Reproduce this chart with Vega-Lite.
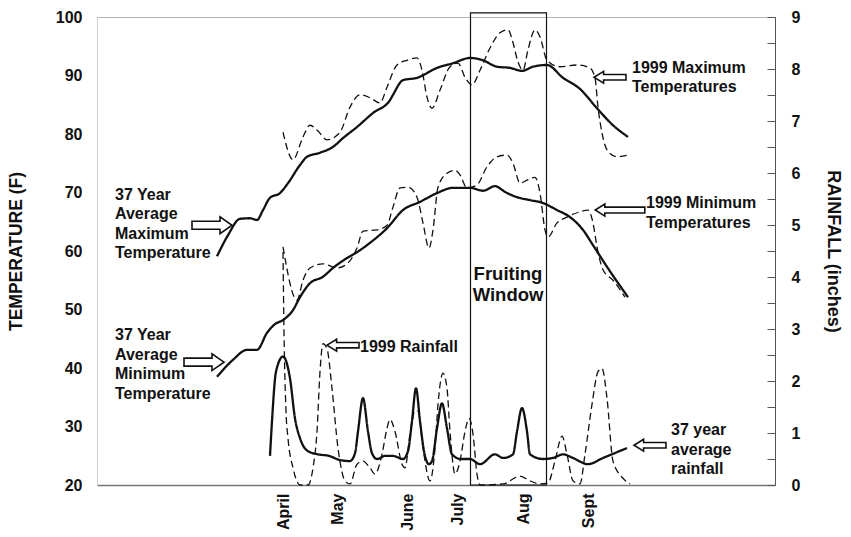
{
  "$schema": "https://vega.github.io/schema/vega-lite/v6.json",
  "width": 678,
  "height": 468,
  "autosize": {"type": "none"},
  "padding": {"left": 97, "top": 17, "right": 76, "bottom": 52},
  "background": "white",
  "config": {
    "view": {"stroke": "#b5b5b5", "strokeWidth": 1},
    "font": "Liberation Sans",
    "axis": {
      "labelFont": "Liberation Sans", "labelFontWeight": "bold", "labelFontSize": 16, "labelColor": "#111",
      "titleFont": "Liberation Sans", "titleFontWeight": "bold", "titleFontSize": 17.5, "titleColor": "#111",
      "grid": false
    },
    "text": {"font": "Liberation Sans"}
  },
  "datasets": {
    "temps": [
      {"s":"avgmax","k":"avg","day":72,"temp":59.1},{"s":"avgmax","k":"avg","day":77.5,"temp":62.7},{"s":"avgmax","k":"avg","day":83.5,"temp":65.5},{"s":"avgmax","k":"avg","day":88.5,"temp":65.6},{"s":"avgmax","k":"avg","day":92,"temp":65.3},{"s":"avgmax","k":"avg","day":95,"temp":67.0},{"s":"avgmax","k":"avg","day":98.5,"temp":69.1},{"s":"avgmax","k":"avg","day":103.5,"temp":69.9},{"s":"avgmax","k":"avg","day":107.5,"temp":71.6},{"s":"avgmax","k":"avg","day":113.5,"temp":74.7},{"s":"avgmax","k":"avg","day":117,"temp":76.1},{"s":"avgmax","k":"avg","day":123.5,"temp":76.8},{"s":"avgmax","k":"avg","day":130,"temp":77.8},{"s":"avgmax","k":"avg","day":135,"temp":79.3},{"s":"avgmax","k":"avg","day":142,"temp":81.2},{"s":"avgmax","k":"avg","day":150,"temp":83.6},{"s":"avgmax","k":"avg","day":158.5,"temp":85.8},{"s":"avgmax","k":"avg","day":160,"temp":86.7},{"s":"avgmax","k":"avg","day":165,"temp":89.2},{"s":"avgmax","k":"avg","day":172,"temp":89.6},{"s":"avgmax","k":"avg","day":182,"temp":91.3},{"s":"avgmax","k":"avg","day":190,"temp":92.1},{"s":"avgmax","k":"avg","day":198.5,"temp":93.0},{"s":"avgmax","k":"avg","day":205,"temp":92.6},{"s":"avgmax","k":"avg","day":212,"temp":91.5},{"s":"avgmax","k":"avg","day":218.5,"temp":91.3},{"s":"avgmax","k":"avg","day":224.5,"temp":90.8},{"s":"avgmax","k":"avg","day":230,"temp":91.5},{"s":"avgmax","k":"avg","day":237,"temp":91.8},{"s":"avgmax","k":"avg","day":245,"temp":89.6},{"s":"avgmax","k":"avg","day":253.5,"temp":87.7},{"s":"avgmax","k":"avg","day":262,"temp":84.4},{"s":"avgmax","k":"avg","day":270,"temp":81.5},{"s":"avgmax","k":"avg","day":277.5,"temp":79.5},

      {"s":"max99","k":"y1999","day":105,"temp":80.3},{"s":"max99","k":"y1999","day":110,"temp":75.6},{"s":"max99","k":"y1999","day":115,"temp":79.5},{"s":"max99","k":"y1999","day":118.5,"temp":81.5},{"s":"max99","k":"y1999","day":122.5,"temp":80.5},{"s":"max99","k":"y1999","day":127,"temp":79.0},{"s":"max99","k":"y1999","day":133.5,"temp":80.3},{"s":"max99","k":"y1999","day":138.5,"temp":84.6},{"s":"max99","k":"y1999","day":143.5,"temp":86.7},{"s":"max99","k":"y1999","day":148.5,"temp":86.2},{"s":"max99","k":"y1999","day":153.5,"temp":85.3},{"s":"max99","k":"y1999","day":157,"temp":88.0},{"s":"max99","k":"y1999","day":162,"temp":91.8},{"s":"max99","k":"y1999","day":167,"temp":92.6},{"s":"max99","k":"y1999","day":172,"temp":93.0},{"s":"max99","k":"y1999","day":174.5,"temp":90.9},{"s":"max99","k":"y1999","day":177,"temp":86.3},{"s":"max99","k":"y1999","day":179.5,"temp":84.4},{"s":"max99","k":"y1999","day":183.5,"temp":87.5},{"s":"max99","k":"y1999","day":188.5,"temp":91.5},{"s":"max99","k":"y1999","day":192.5,"temp":92.1},{"s":"max99","k":"y1999","day":196,"temp":89.7},{"s":"max99","k":"y1999","day":199.5,"temp":88.4},{"s":"max99","k":"y1999","day":203.5,"temp":90.9},{"s":"max99","k":"y1999","day":208.5,"temp":94.7},{"s":"max99","k":"y1999","day":213.5,"temp":97.3},{"s":"max99","k":"y1999","day":217.5,"temp":97.8},{"s":"max99","k":"y1999","day":220,"temp":95.6},{"s":"max99","k":"y1999","day":222.5,"temp":92.3},{"s":"max99","k":"y1999","day":225,"temp":90.9},{"s":"max99","k":"y1999","day":227.5,"temp":94.4},{"s":"max99","k":"y1999","day":231,"temp":97.8},{"s":"max99","k":"y1999","day":233.5,"temp":96.6},{"s":"max99","k":"y1999","day":237,"temp":92.6},{"s":"max99","k":"y1999","day":243.5,"temp":91.5},{"s":"max99","k":"y1999","day":252,"temp":91.8},{"s":"max99","k":"y1999","day":258.5,"temp":91.3},{"s":"max99","k":"y1999","day":261,"temp":89.6},{"s":"max99","k":"y1999","day":262.5,"temp":84.6},{"s":"max99","k":"y1999","day":264.5,"temp":80.2},{"s":"max99","k":"y1999","day":267,"temp":77.3},{"s":"max99","k":"y1999","day":272,"temp":76.1},{"s":"max99","k":"y1999","day":277.5,"temp":76.4},

      {"s":"avgmin","k":"avg","day":72,"temp":38.5},{"s":"avgmin","k":"avg","day":80,"temp":41.4},{"s":"avgmin","k":"avg","day":87,"temp":43.1},{"s":"avgmin","k":"avg","day":92,"temp":43.1},{"s":"avgmin","k":"avg","day":97,"temp":46.0},{"s":"avgmin","k":"avg","day":101,"temp":47.5},{"s":"avgmin","k":"avg","day":105,"temp":48.2},{"s":"avgmin","k":"avg","day":110,"temp":49.9},{"s":"avgmin","k":"avg","day":113.5,"temp":52.1},{"s":"avgmin","k":"avg","day":118.5,"temp":54.5},{"s":"avgmin","k":"avg","day":125,"temp":55.6},{"s":"avgmin","k":"avg","day":130,"temp":57.1},{"s":"avgmin","k":"avg","day":137,"temp":58.8},{"s":"avgmin","k":"avg","day":142,"temp":59.8},{"s":"avgmin","k":"avg","day":148.5,"temp":61.4},{"s":"avgmin","k":"avg","day":157,"temp":63.9},{"s":"avgmin","k":"avg","day":165,"temp":67.0},{"s":"avgmin","k":"avg","day":173.5,"temp":68.4},{"s":"avgmin","k":"avg","day":182,"temp":69.9},{"s":"avgmin","k":"avg","day":190,"temp":70.8},{"s":"avgmin","k":"avg","day":198.5,"temp":70.8},{"s":"avgmin","k":"avg","day":205,"temp":70.3},{"s":"avgmin","k":"avg","day":211,"temp":71.1},{"s":"avgmin","k":"avg","day":216,"temp":70.1},{"s":"avgmin","k":"avg","day":222,"temp":69.2},{"s":"avgmin","k":"avg","day":228.5,"temp":68.7},{"s":"avgmin","k":"avg","day":235,"temp":68.2},{"s":"avgmin","k":"avg","day":242,"temp":67.0},{"s":"avgmin","k":"avg","day":248.5,"temp":65.8},{"s":"avgmin","k":"avg","day":255,"temp":63.6},{"s":"avgmin","k":"avg","day":260,"temp":61.0},{"s":"avgmin","k":"avg","day":267,"temp":57.3},{"s":"avgmin","k":"avg","day":277.5,"temp":52.1},

      {"s":"min99","k":"y1999","day":105,"temp":60.7},{"s":"min99","k":"y1999","day":112,"temp":51.6},{"s":"min99","k":"y1999","day":115,"temp":55.0},{"s":"min99","k":"y1999","day":118.5,"temp":57.1},{"s":"min99","k":"y1999","day":125,"temp":57.8},{"s":"min99","k":"y1999","day":132,"temp":57.1},{"s":"min99","k":"y1999","day":137,"temp":57.8},{"s":"min99","k":"y1999","day":142,"temp":60.5},{"s":"min99","k":"y1999","day":145,"temp":63.4},{"s":"min99","k":"y1999","day":152,"temp":63.6},{"s":"min99","k":"y1999","day":157,"temp":64.4},{"s":"min99","k":"y1999","day":160,"temp":67.5},{"s":"min99","k":"y1999","day":163.5,"temp":70.8},{"s":"min99","k":"y1999","day":167.5,"temp":70.9},{"s":"min99","k":"y1999","day":172,"temp":69.2},{"s":"min99","k":"y1999","day":175,"temp":64.8},{"s":"min99","k":"y1999","day":178,"temp":60.5},{"s":"min99","k":"y1999","day":180,"temp":63.6},{"s":"min99","k":"y1999","day":182.5,"temp":70.9},{"s":"min99","k":"y1999","day":187,"temp":73.3},{"s":"min99","k":"y1999","day":191,"temp":73.8},{"s":"min99","k":"y1999","day":193.5,"temp":73.0},{"s":"min99","k":"y1999","day":197,"temp":70.8},{"s":"min99","k":"y1999","day":202,"temp":71.3},{"s":"min99","k":"y1999","day":207,"temp":74.4},{"s":"min99","k":"y1999","day":212,"temp":76.1},{"s":"min99","k":"y1999","day":217,"temp":76.4},{"s":"min99","k":"y1999","day":220,"temp":75.0},{"s":"min99","k":"y1999","day":223.5,"temp":71.6},{"s":"min99","k":"y1999","day":227,"temp":72.1},{"s":"min99","k":"y1999","day":231,"temp":72.6},{"s":"min99","k":"y1999","day":233.5,"temp":69.9},{"s":"min99","k":"y1999","day":236,"temp":63.6},{"s":"min99","k":"y1999","day":237.5,"temp":62.4},{"s":"min99","k":"y1999","day":242,"temp":64.8},{"s":"min99","k":"y1999","day":247,"temp":65.8},{"s":"min99","k":"y1999","day":253.5,"temp":66.7},{"s":"min99","k":"y1999","day":257.5,"temp":67.0},{"s":"min99","k":"y1999","day":260,"temp":64.8},{"s":"min99","k":"y1999","day":262,"temp":60.7},{"s":"min99","k":"y1999","day":265,"temp":56.8},{"s":"min99","k":"y1999","day":270,"temp":55.0},{"s":"min99","k":"y1999","day":276,"temp":52.1}
    ],
    "rain": [
      {"s":"avgrain","k":"avg","day":98.5,"rain":0.56},{"s":"avgrain","k":"avg","day":99.5,"rain":1.23},{"s":"avgrain","k":"avg","day":101.5,"rain":2.18},{"s":"avgrain","k":"avg","day":105,"rain":2.47},{"s":"avgrain","k":"avg","day":108.5,"rain":2.05},{"s":"avgrain","k":"avg","day":111,"rain":1.28},{"s":"avgrain","k":"avg","day":113.5,"rain":0.9},{"s":"avgrain","k":"avg","day":117.5,"rain":0.65},{"s":"avgrain","k":"avg","day":122.5,"rain":0.59},{"s":"avgrain","k":"avg","day":128,"rain":0.56},{"s":"avgrain","k":"avg","day":133.5,"rain":0.48},{"s":"avgrain","k":"avg","day":138.5,"rain":0.46},{"s":"avgrain","k":"avg","day":141,"rain":0.61},{"s":"avgrain","k":"avg","day":142.5,"rain":1.03},{"s":"avgrain","k":"avg","day":145,"rain":1.67},{"s":"avgrain","k":"avg","day":147.5,"rain":1.03},{"s":"avgrain","k":"avg","day":149.5,"rain":0.61},{"s":"avgrain","k":"avg","day":152,"rain":0.5},{"s":"avgrain","k":"avg","day":156,"rain":0.56},{"s":"avgrain","k":"avg","day":160,"rain":0.56},{"s":"avgrain","k":"avg","day":165,"rain":0.5},{"s":"avgrain","k":"avg","day":167.5,"rain":0.65},{"s":"avgrain","k":"avg","day":169.5,"rain":1.23},{"s":"avgrain","k":"avg","day":171.5,"rain":1.86},{"s":"avgrain","k":"avg","day":173.5,"rain":1.23},{"s":"avgrain","k":"avg","day":175.5,"rain":0.65},{"s":"avgrain","k":"avg","day":178,"rain":0.4},{"s":"avgrain","k":"avg","day":179.5,"rain":0.46},{"s":"avgrain","k":"avg","day":182,"rain":1.09},{"s":"avgrain","k":"avg","day":184.5,"rain":1.57},{"s":"avgrain","k":"avg","day":187,"rain":1.09},{"s":"avgrain","k":"avg","day":189.5,"rain":0.59},{"s":"avgrain","k":"avg","day":194,"rain":0.5},{"s":"avgrain","k":"avg","day":198.5,"rain":0.5},{"s":"avgrain","k":"avg","day":203.5,"rain":0.4},{"s":"avgrain","k":"avg","day":211,"rain":0.59},{"s":"avgrain","k":"avg","day":215,"rain":0.52},{"s":"avgrain","k":"avg","day":220,"rain":0.59},{"s":"avgrain","k":"avg","day":222,"rain":1.03},{"s":"avgrain","k":"avg","day":224.5,"rain":1.48},{"s":"avgrain","k":"avg","day":227,"rain":1.03},{"s":"avgrain","k":"avg","day":228.5,"rain":0.59},{"s":"avgrain","k":"avg","day":235,"rain":0.5},{"s":"avgrain","k":"avg","day":240,"rain":0.52},{"s":"avgrain","k":"avg","day":245,"rain":0.59},{"s":"avgrain","k":"avg","day":250,"rain":0.52},{"s":"avgrain","k":"avg","day":257.5,"rain":0.4},{"s":"avgrain","k":"avg","day":265,"rain":0.52},{"s":"avgrain","k":"avg","day":277,"rain":0.71},

      {"s":"rain99","k":"y1999","day":105,"rain":4.48},{"s":"rain99","k":"y1999","day":105.5,"rain":2.95},{"s":"rain99","k":"y1999","day":106.5,"rain":1.42},{"s":"rain99","k":"y1999","day":107.5,"rain":0.9},{"s":"rain99","k":"y1999","day":110,"rain":0.33},{"s":"rain99","k":"y1999","day":113.5,"rain":0},{"s":"rain99","k":"y1999","day":117.5,"rain":0},{"s":"rain99","k":"y1999","day":120,"rain":0.33},{"s":"rain99","k":"y1999","day":122,"rain":1.03},{"s":"rain99","k":"y1999","day":123.5,"rain":2.18},{"s":"rain99","k":"y1999","day":125,"rain":2.72},{"s":"rain99","k":"y1999","day":127,"rain":2.62},{"s":"rain99","k":"y1999","day":129.5,"rain":1.86},{"s":"rain99","k":"y1999","day":132.5,"rain":0.71},{"s":"rain99","k":"y1999","day":136,"rain":0.08},{"s":"rain99","k":"y1999","day":138.5,"rain":0.02},{"s":"rain99","k":"y1999","day":142,"rain":0.4},{"s":"rain99","k":"y1999","day":145,"rain":0.46},{"s":"rain99","k":"y1999","day":148.5,"rain":0.33},{"s":"rain99","k":"y1999","day":151,"rain":0.21},{"s":"rain99","k":"y1999","day":154.5,"rain":0.59},{"s":"rain99","k":"y1999","day":157,"rain":1.09},{"s":"rain99","k":"y1999","day":158.5,"rain":1.26},{"s":"rain99","k":"y1999","day":161,"rain":1.03},{"s":"rain99","k":"y1999","day":164.5,"rain":0.4},{"s":"rain99","k":"y1999","day":166,"rain":0.33},{"s":"rain99","k":"y1999","day":168.5,"rain":0.98},{"s":"rain99","k":"y1999","day":171,"rain":1.42},{"s":"rain99","k":"y1999","day":172.5,"rain":1.42},{"s":"rain99","k":"y1999","day":175,"rain":0.71},{"s":"rain99","k":"y1999","day":178.5,"rain":0.08},{"s":"rain99","k":"y1999","day":181,"rain":0.71},{"s":"rain99","k":"y1999","day":182.5,"rain":1.55},{"s":"rain99","k":"y1999","day":185,"rain":2.15},{"s":"rain99","k":"y1999","day":187,"rain":1.86},{"s":"rain99","k":"y1999","day":188.5,"rain":1.03},{"s":"rain99","k":"y1999","day":191,"rain":0.21},{"s":"rain99","k":"y1999","day":193.5,"rain":0.46},{"s":"rain99","k":"y1999","day":196,"rain":1.03},{"s":"rain99","k":"y1999","day":198,"rain":1.28},{"s":"rain99","k":"y1999","day":200,"rain":0.98},{"s":"rain99","k":"y1999","day":202,"rain":0.21},{"s":"rain99","k":"y1999","day":203.5,"rain":0},{"s":"rain99","k":"y1999","day":215,"rain":0.02},{"s":"rain99","k":"y1999","day":223.5,"rain":0.17},{"s":"rain99","k":"y1999","day":228.5,"rain":0.08},{"s":"rain99","k":"y1999","day":233.5,"rain":0.02},{"s":"rain99","k":"y1999","day":237.5,"rain":0.04},{"s":"rain99","k":"y1999","day":241,"rain":0.46},{"s":"rain99","k":"y1999","day":244.5,"rain":0.94},{"s":"rain99","k":"y1999","day":247,"rain":0.59},{"s":"rain99","k":"y1999","day":250,"rain":0.08},{"s":"rain99","k":"y1999","day":253.5,"rain":0.02},{"s":"rain99","k":"y1999","day":256,"rain":0.59},{"s":"rain99","k":"y1999","day":259.5,"rain":1.55},{"s":"rain99","k":"y1999","day":262.5,"rain":2.18},{"s":"rain99","k":"y1999","day":264.5,"rain":2.24},{"s":"rain99","k":"y1999","day":267,"rain":1.67},{"s":"rain99","k":"y1999","day":270,"rain":0.46},{"s":"rain99","k":"y1999","day":275,"rain":0.13},{"s":"rain99","k":"y1999","day":278.5,"rain":0.02}
    ],
    "window": [
      {"day": 198.75, "day_end": 236.75, "temp": 100.7, "temp_end": 20}
    ],
    "window_label": [
      {"day": 217.5, "temp": 56.1, "label": "Fruiting\nWindow"}
    ],
    "notes": [
      {"day": 21, "temp": 69.6, "label": "37 Year\nAverage\nMaximum\nTemperature"},
      {"day": 21, "temp": 45.6, "label": "37 Year\nAverage\nMinimum\nTemperature"},
      {"day": 279.5, "temp": 91.3, "label": "1999 Maximum\nTemperatures"},
      {"day": 286.5, "temp": 68.2, "label": "1999 Minimum\nTemperatures"},
      {"day": 143.5, "temp": 43.6, "label": "1999 Rainfall"},
      {"day": 299, "temp": 29.4, "label": "37 year\naverage\nrainfall"}
    ],
    "arrows": [
      {"note": "37 Year Average Maximum Temperature", "points": "right", "day": 69.5, "temp": 64.4},
      {"note": "37 Year Average Minimum Temperature", "points": "right", "day": 65.5, "temp": 41.0},
      {"note": "1999 Rainfall", "points": "left", "day": 135, "temp": 43.9},
      {"note": "1999 Maximum Temperatures", "points": "left", "day": 268.5, "temp": 89.7},
      {"note": "37 year average rainfall", "points": "left", "day": 288.5, "temp": 26.8},
      {"note": "1999 Minimum Temperatures", "points": "left-long", "day": 273.5, "temp": 67.0}
    ]
  },
  "encoding": {
    "x": {
      "field": "day", "type": "quantitative",
      "scale": {"domain": [12, 351], "nice": false, "zero": false},
      "axis": {
        "title": null,
        "values": [105, 132, 167, 192, 225, 257.5],
        "labelExpr": "datum.value < 110 ? 'April' : datum.value < 140 ? 'May' : datum.value < 180 ? 'June' : datum.value < 200 ? 'July' : datum.value < 240 ? 'Aug' : 'Sept'",
        "labelAngle": -90,
        "labelPadding": 8,
        "ticks": false,
        "domainColor": "#777",
        "domainWidth": 1.5
      }
    }
  },
  "layer": [
    {
      "encoding": {
        "y": {
          "field": "temp", "type": "quantitative",
          "scale": {"domain": [20, 100], "nice": false, "zero": false},
          "axis": {
            "title": "TEMPERATURE (F)",
            "values": [20, 30, 40, 50, 60, 70, 80, 90, 100],
            "ticks": false,
            "labelPadding": 15,
            "domainColor": "#cfcfcf",
            "titlePadding": 30
          }
        }
      },
      "layer": [
        {
          "data": {"name": "temps"},
          "mark": {"type": "line", "interpolate": "monotone", "color": "#111"},
          "encoding": {
            "detail": {"field": "s"},
            "strokeDash": {"field": "k", "type": "nominal", "scale": {"domain": ["avg", "y1999"], "range": [[1, 0], [7, 4]]}, "legend": null},
            "strokeWidth": {"field": "k", "type": "ordinal", "scale": {"domain": ["avg", "y1999"], "range": [2.3, 1.3]}, "legend": null}
          }
        },
        {
          "data": {"name": "window"},
          "mark": {"type": "rect", "fill": null, "fillOpacity": 0, "stroke": "#111", "strokeWidth": 1.2},
          "encoding": {
            "x2": {"field": "day_end"},
            "y2": {"field": "temp_end"}
          }
        },
        {
          "data": {"name": "window_label"},
          "mark": {"type": "text", "align": "center", "baseline": "middle", "fontSize": 18.5, "fontWeight": "bold", "lineBreak": "\n", "lineHeight": 21, "color": "#111"},
          "encoding": {"text": {"field": "label"}}
        },
        {
          "data": {"name": "notes"},
          "mark": {"type": "text", "align": "left", "baseline": "middle", "fontSize": 16, "fontWeight": "bold", "lineBreak": "\n", "lineHeight": 19.5, "color": "#111"},
          "encoding": {"text": {"field": "label"}}
        },
        {
          "data": {"name": "arrows"},
          "transform": [{"filter": "datum.points === 'right'"}],
          "mark": {"type": "point", "filled": true, "fill": "white", "stroke": "#111", "strokeWidth": 1.6, "opacity": 1, "size": 1600,
                   "shape": "M-1,-0.2L0.4,-0.2L0.4,-0.42L1,0L0.4,0.42L0.4,0.2L-1,0.2Z"}
        },
        {
          "data": {"name": "arrows"},
          "transform": [{"filter": "datum.points === 'left'"}],
          "mark": {"type": "point", "filled": true, "fill": "white", "stroke": "#111", "strokeWidth": 1.6, "opacity": 1, "size": 1024,
                   "shape": "M1,-0.17L-0.4,-0.17L-0.4,-0.37L-1,0L-0.4,0.37L-0.4,0.17L1,0.17Z"}
        },
        {
          "data": {"name": "arrows"},
          "transform": [{"filter": "datum.points === 'left-long'"}],
          "mark": {"type": "point", "filled": true, "fill": "white", "stroke": "#111", "strokeWidth": 1.6, "opacity": 1, "size": 1024,
                   "shape": "M1.55,-0.18L-0.95,-0.18L-0.95,-0.38L-1.55,0L-0.95,0.38L-0.95,0.18L1.55,0.18Z"}
        }
      ]
    },
    {
      "data": {"name": "rain"},
      "mark": {"type": "line", "interpolate": "monotone", "color": "#111"},
      "encoding": {
        "y": {
          "field": "rain", "type": "quantitative",
          "scale": {"domain": [0, 9], "nice": false, "zero": false},
          "axis": {
            "orient": "right",
            "title": "RAINFALL (inches)",
            "titleFontSize": 18,
            "values": [0, 0.5, 1, 1.5, 2, 2.5, 3, 3.5, 4, 4.5, 5, 5.5, 6, 6.5, 7, 7.5, 8, 8.5, 9],
            "labelExpr": "datum.value % 1 === 0 ? format(datum.value, 'd') : ''",
            "tickSize": -8,
            "tickColor": "#555",
            "labelPadding": 24,
            "domainColor": "#555",
            "titlePadding": 24
          }
        },
        "detail": {"field": "s"},
        "strokeDash": {"field": "k", "type": "nominal", "scale": {"domain": ["avg", "y1999"], "range": [[1, 0], [7, 4]]}, "legend": null},
        "strokeWidth": {"field": "k", "type": "ordinal", "scale": {"domain": ["avg", "y1999"], "range": [2.3, 1.3]}, "legend": null}
      }
    }
  ],
  "resolve": {"scale": {"y": "independent"}}
}
